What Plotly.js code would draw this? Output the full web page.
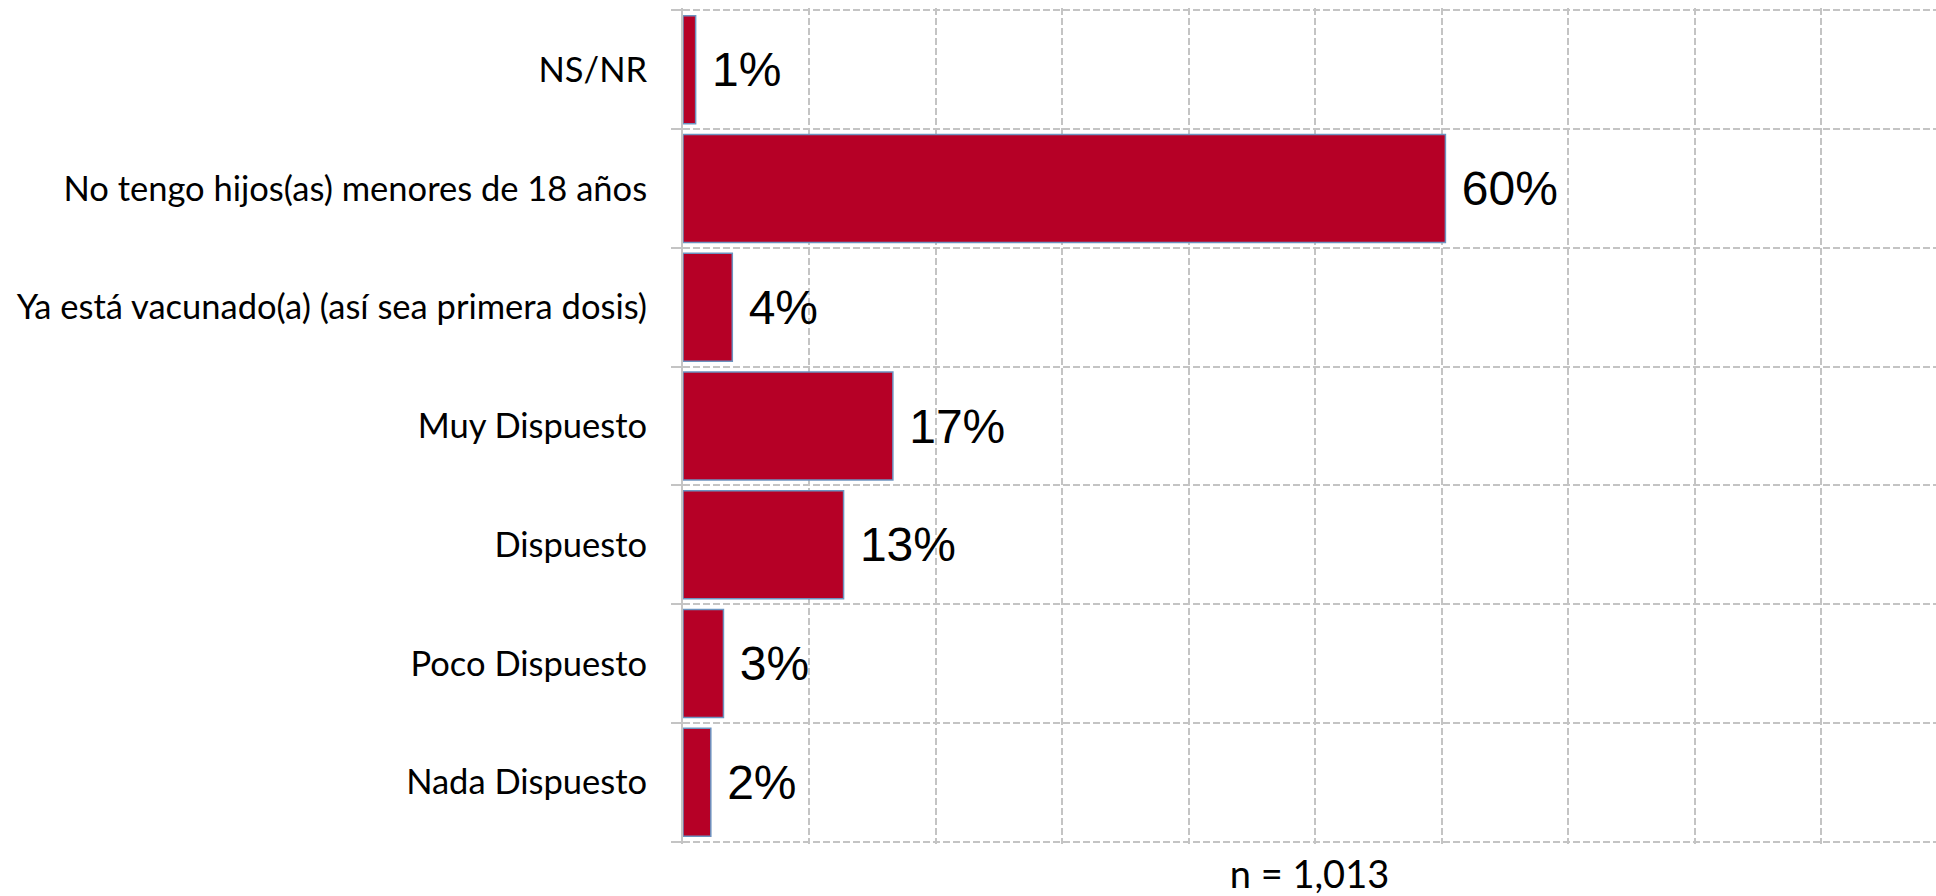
<!DOCTYPE html>
<html>
<head>
<meta charset="utf-8">
<script src="https://cdn.plot.ly/plotly-3.0.1.min.js"></script>
<style>
  html, body { margin: 0; padding: 0; background: #fff; }
  #graphDiv { width: 1936px; height: 896px; }
</style>
</head>
<body>
<div id="graphDiv"></div>
<script>
// categorias de arriba hacia abajo
let categorias = [
    "NS/NR",
    "No tengo hijos(as) menores de 18 años",
    "Ya está vacunado(a) (así sea primera dosis)",
    "Muy Dispuesto",
    "Dispuesto",
    "Poco Dispuesto",
    "Nada Dispuesto"
];
// largo de las barras (la etiqueta va redondeada)
let porcentajes = [1.0, 60.3, 3.9, 16.6, 12.7, 3.2, 2.2];
let nota = "n = 1,013";

let gris = "#C4C4C4";
let rangoY = [categorias.length - 0.48, -0.52];

let barras = {
    type: 'bar',
    orientation: 'h',
    x: porcentajes,
    y: categorias,
    marker: {
        color: '#B60026',
        line: { color: '#6C93C0', width: 1.5 }
    },
    texttemplate: '\u00a0%{x:.0f}%',
    textposition: 'outside',
    constraintext: 'none',
    cliponaxis: false,
    textfont: { family: 'Liberation Sans, Arial, sans-serif', size: 48, color: '#000' },
    hoverinfo: 'none'
};

// traza vacia para que se dibuje el eje auxiliar
let auxiliar = {
    type: 'scatter',
    mode: 'none',
    x: [],
    y: [],
    yaxis: 'y2',
    hoverinfo: 'none'
};

let layout = {
    width: 1936,
    height: 896,
    margin: { l: 683, r: 0, t: 8, b: 52 },
    paper_bgcolor: '#fff',
    plot_bgcolor: '#fff',
    showlegend: false,
    bargap: 0.09,
    xaxis: {
        range: [0, 99.1],
        dtick: 10,
        tick0: 0,
        showticklabels: false,
        ticks: '',
        showgrid: true,
        gridcolor: gris,
        gridwidth: 2,
        griddash: '7px,3px',
        zeroline: false,
        showline: false,
        title: {
            text: nota,
            standoff: 23,
            font: { family: 'Lato, sans-serif', size: 38, color: '#000' }
        }
    },
    yaxis: {
        type: 'category',
        range: rangoY,
        ticks: '',
        ticklabelstandoff: 27,
        showgrid: false,
        showline: true,
        linecolor: gris,
        linewidth: 2,
        tickfont: { family: 'Lato, sans-serif', size: 34.5, color: '#000' }
    },
    // eje auxiliar solo para las lineas entre categorias
    yaxis2: {
        type: 'linear',
        overlaying: 'y',
        side: 'left',
        anchor: 'x',
        range: rangoY,
        tick0: -0.5,
        dtick: 1,
        showticklabels: false,
        ticks: 'outside',
        ticklen: 11,
        tickwidth: 2,
        tickcolor: gris,
        showgrid: true,
        gridcolor: gris,
        gridwidth: 2,
        griddash: '7px,3px',
        zeroline: false,
        showline: false
    }
};

Plotly.newPlot('graphDiv', [barras, auxiliar], layout, { displayModeBar: false, staticPlot: true });
</script>
</body>
</html>
